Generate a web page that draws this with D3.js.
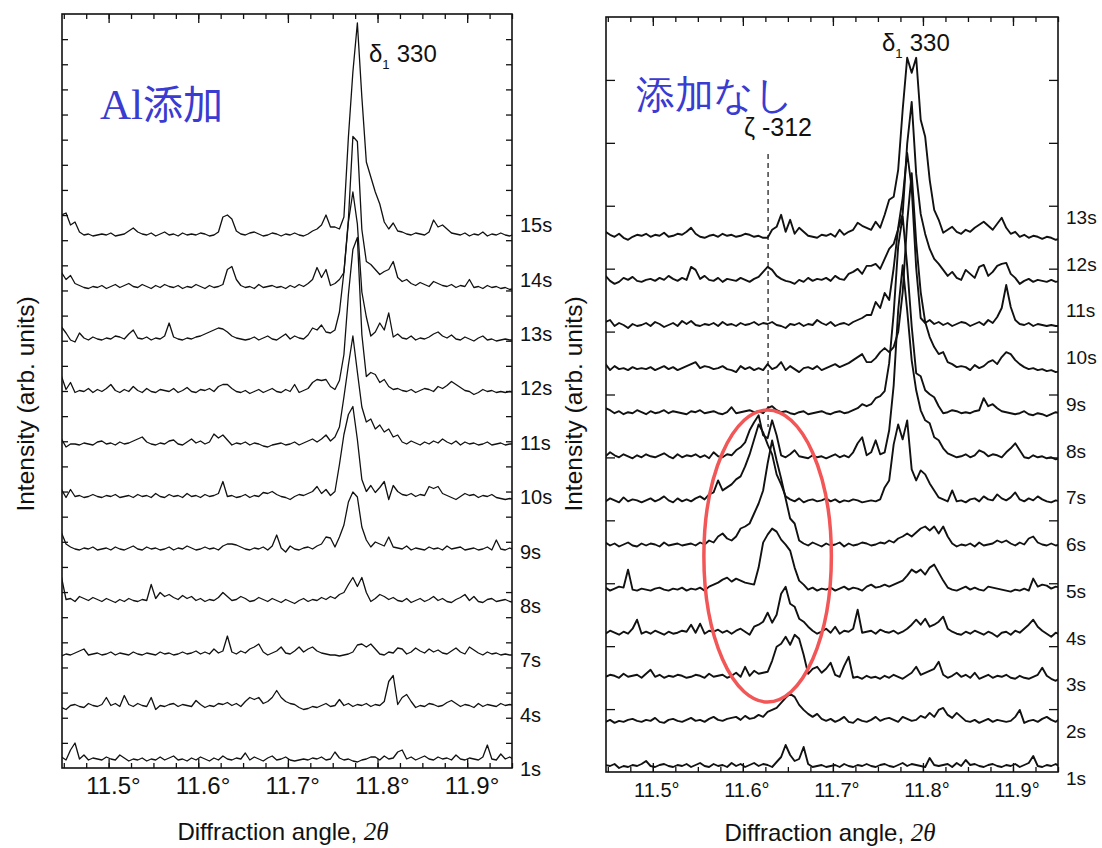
<!DOCTYPE html>
<html>
<head>
<meta charset="utf-8">
<script src="https://cdn.jsdelivr.net/npm/d3@7"></script>
<style>
  body { margin: 0; background: #fff; }
  text { font-family: "Liberation Sans", Arial, sans-serif; fill: #111; }
</style>
</head>
<body>
<svg></svg>
<script>
// sampling grid of the scans (degrees 2θ)
const angleStart = 11.4425, angleStep = 0.005, nPoints = 103;
const majorTicks = [11.5, 11.6, 11.7, 11.8, 11.9];

// ---- left panel: Al added ----
const alLabels = ["1s", "4s", "7s", "8s", "9s", "10s", "11s", "12s", "13s", "14s", "15s"];
const al1 = [4,5,2,12,19,3,7,2,4,3, 2,5,3,2,7,4,1,3,2,4, 1,3,2,5,2,4,6,2,3,1, 4,2,5,3,1,4,2,6,3,2,
  4,3,9,2,5,3,1,4,6,2, 3,5,2,1,2,3,2,4,3,5, 2,3,10,4,2,3,1,0,2,3, 5,5,2,6,3,4,10,12,3,5,
  2,4,6,3,2,5,3,4,2,7, 3,2,4,3,2,5,17,3,2,8, 3,5,2];
const al4 = [3,2,0,4,5,3,2,6,4,3, 5,12,4,6,3,14,5,3,6,4, 3,12,0,4,3,5,6,3,5,4, 3,9,5,2,4,3,6,5,7,4,
  6,3,8,12,10,12,6,8,12,19, 12,8,6,5,2,0,1,3,2,4, 6,3,4,10,4,6,3,5,4,6, 3,5,4,8,28,34,5,12,15,8,
  2,4,3,6,5,3,4,7,9,6, 3,5,4,2,6,3,5,4,3,6, 4,5,4];
const al7 = [2,1,3,2,4,6,8,2,3,4, 2,3,5,2,4,3,2,5,3,2, 4,3,2,5,3,4,2,3,5,3, 4,6,3,5,3,8,4,6,21,5,
  3,6,4,8,10,13,5,2,4,6, 10,4,3,6,10,5,8,10,6,4, 3,2,2,1,2,3,5,12,13,10, 13,8,3,2,5,4,9,8,3,5,
  9,6,4,8,5,7,4,3,6,9, 5,3,10,7,4,2,5,3,4,2, 3,2,2];
const al8 = [20,27,5,6,3,8,6,4,7,5, 3,6,4,2,5,3,6,4,3,5, 4,20,6,12,8,10,7,5,9,6, 8,4,6,3,5,4,7,12,8,4,
  5,8,6,3,4,7,5,3,6,4, 2,5,3,1,4,6,3,5,4,7, 5,8,6,10,12,20,27,18,27,12, 3,6,10,8,5,7,4,3,6,2,
  4,6,3,5,8,4,6,3,2,5, 7,10,4,8,3,2,5,6,3,4, 5,3,2];
const al9 = [5,19,8,5,3,2,4,3,5,2, 3,4,2,5,3,2,4,6,3,2, 5,3,4,2,3,5,2,4,3,6, 4,2,3,5,3,4,2,6,8,8,
  7,5,3,2,4,3,5,2,6,17, 4,0,6,3,2,4,5,3,6,8, 15,14,5,15,27,50,60,55,25,12, 5,10,8,6,15,5,4,3,6,2,
  4,3,2,5,3,4,2,6,3,4, 5,2,3,4,2,3,5,2,12,3, 2,4,2];
const al10 = [4,10,2,10,3,4,2,3,5,3, 2,4,3,5,2,3,4,2,5,3, 4,2,6,3,2,5,3,4,2,6, 3,4,2,5,3,4,6,18,3,4,
  2,3,5,2,4,3,7,6,8,5, 3,2,0,3,5,4,6,8,13,6, 10,4,8,35,65,85,93,60,20,8, 14,7,12,18,0,14,8,5,4,6,
  3,5,4,13,11,13,6,4,2,0, 3,6,4,5,2,4,3,5,2,1, 0,1,0];
const al11 = [6,8,0,3,3,2,4,3,2,5, 6,3,4,2,5,3,4,6,8,10, 5,3,2,4,3,6,7,3,2,5, 8,4,6,3,5,13,9,12,7,2,
  4,3,5,2,4,3,1,0,2,3, 4,2,3,5,2,4,6,8,5,8, 12,6,10,20,50,82,111,75,40,25, 28,18,22,15,18,10,12,5,3,6,
  4,2,5,3,6,4,8,5,3,6, 2,5,3,4,2,3,5,2,3,4, 2,3,3];
const al12 = [10,18,5,12,2,4,3,6,2,5, 3,6,10,4,2,5,3,8,4,2, 6,3,2,5,4,3,6,2,4,7, 3,2,5,4,6,3,8,10,10,6,
  3,2,4,1,3,5,2,4,6,3, 2,5,3,10,2,4,6,12,15,14, 15,8,5,14,40,100,145,157,60,18, 22,20,12,15,8,5,6,4,3,5,
  2,4,6,5,3,8,6,9,13,10, 7,4,3,0,2,5,3,4,2,3, 2,3,2];
const al13 = [12,15,9,2,0,9,4,2,5,3, 2,4,3,6,5,3,8,12,4,3, 5,2,4,3,6,19,5,3,2,4, 3,5,6,8,10,12,14,13,10,6,
  4,3,2,3,5,2,4,6,3,2, 5,8,3,6,4,3,7,14,12,17, 10,9,12,30,70,120,150,118,50,25, 6,10,19,12,29,5,8,4,3,6,
  2,4,3,5,8,10,6,4,7,3, 2,5,3,1,4,6,2,3,1,2, 3,2,2];
const al14 = [14,17,10,14,6,4,2,1,3,2, 4,1,3,5,2,4,6,3,2,5, 3,1,4,2,5,3,2,4,1,3, 2,5,3,1,4,2,3,5,20,23,
  10,4,2,3,1,5,2,3,4,2, 3,1,4,2,5,3,6,10,22,12, 20,4,6,10,17,70,153,148,60,28, 25,20,15,18,20,28,12,8,10,6,
  4,7,5,3,8,6,4,3,5,2, 4,3,10,2,3,1,4,2,3,1, 2,0,1];
const al15 = [24,22,24,12,15,5,2,3,1,2, 3,2,4,1,2,3,6,9,5,3, 2,4,1,3,5,2,3,1,4,2, 3,2,4,3,1,2,5,20,22,18,
  6,3,2,4,5,3,1,2,4,3, 1,3,2,4,2,1,3,6,8,12, 22,10,10,8,20,100,165,214,140,75, 60,45,33,15,8,14,6,5,3,2,
  4,3,2,5,17,10,12,8,4,3, 2,4,1,3,2,5,1,3,2,4, 2,1,3];
const alTraces = [al1, al4, al7, al8, al9, al10, al11, al12, al13, al14, al15];

// ---- right panel: no addition ----
const noLabels = ["1s", "2s", "3s", "4s", "5s", "6s", "7s", "8s", "9s", "10s", "11s", "12s", "13s"];
const no1 = [2,4,3,5,1,3,2,4,3,5, 8,3,2,4,5,3,2,4,3,5, 2,4,6,3,2,5,3,4,2,6, 3,5,2,4,6,3,5,4,2,7,
  12,24,14,8,10,22,5,2,3,4, 2,3,4,2,5,3,2,4,3,5, 3,2,4,5,3,2,4,6,3,5, 4,3,2,11,4,3,4,5,2,6,
  3,9,4,5,3,2,4,5,3,2, 4,3,5,2,4,6,13,3,2,4, 3,5,2];
const no2 = [0,3,5,2,4,3,5,6,4,3, 5,4,7,3,2,5,6,4,3,5, 7,4,5,3,6,8,5,4,6,7, 8,5,9,6,7,10,8,13,15,17,
  22,27,31,28,20,15,11,8,11,6, 4,6,3,5,8,3,2,6,4,3, 5,8,4,6,7,5,3,8,6,4, 5,9,7,12,8,15,17,10,7,12,
  8,4,3,5,2,4,6,3,5,4, 3,4,8,15,2,4,5,3,6,8, 5,3,7];
const no3 = [8,4,6,5,3,7,4,5,6,3, 7,11,4,6,3,5,4,6,5,3, 4,6,5,3,7,4,5,6,3,5, 8,4,14,5,10,7,8,9,20,34,
  37,44,36,46,42,26,7,12,14,8, 12,18,6,4,15,24,3,4,2,5, 3,4,2,5,3,6,4,2,5,8, 14,6,8,10,12,19,6,3,5,8,
  4,6,3,8,2,4,6,3,5,4, 6,3,2,5,3,2,4,6,13,5, 2,0,3];
const no4 = [5,3,6,4,2,5,3,8,17,3, 5,3,6,4,2,5,3,4,6,5, 12,4,13,3,6,5,7,4,6,3, 6,8,5,2,10,12,15,24,14,22,
  43,50,33,30,18,15,10,6,3,5, 8,4,10,3,6,5,8,27,4,5, 6,3,7,5,4,6,3,5,8,12, 17,12,18,10,12,15,20,8,5,3,
  2,5,3,6,4,2,5,3,0,4, 5,2,6,4,8,12,17,10,6,3, 0,4,2];
const no5 = [3,5,2,4,6,5,23,3,2,4, 3,2,4,5,3,2,4,3,5,2, 4,3,5,2,6,8,10,13,15,11, 14,12,10,9,8,25,50,58,64,61,
  53,48,42,25,12,8,3,5,2,4, 3,5,2,4,6,3,5,4,2,6, 8,5,6,8,6,8,10,12,17,23, 20,23,18,25,28,20,12,5,3,2,
  4,6,3,5,3,2,6,5,4,3, 2,1,3,2,4,2,14,6,8,7, 4,6,5];
const no6 = [4,6,3,5,2,4,6,3,2,5, 3,5,4,2,6,3,4,5,3,4, 5,3,6,4,8,6,12,15,10,8, 12,20,22,25,35,45,58,85,108,88,
  70,50,30,25,8,5,3,6,4,2, 5,3,4,6,2,5,3,4,6,5, 3,4,6,5,8,6,10,12,15,12, 16,20,22,18,22,15,22,12,5,2,
  4,3,5,2,6,3,4,5,8,6, 8,5,3,6,4,10,12,6,4,3, 5,3,4];
const no7 = [5,3,6,4,2,7,3,5,4,2, 4,6,3,5,8,4,2,6,3,5, 3,6,8,5,10,12,24,14,17,20, 25,28,38,50,65,80,72,60,50,30,
  20,8,5,3,6,2,4,5,3,4, 6,3,5,2,4,3,5,4,2,3, 4,3,5,17,24,60,80,65,84,35, 24,34,30,21,14,7,5,3,14,3,
  4,2,5,6,3,8,5,4,10,6, 4,7,12,5,3,6,4,8,5,3, 2,4,3];
const no8 = [7,4,8,5,3,6,4,2,5,3, 6,4,3,5,7,4,2,6,3,5, 4,6,3,5,2,8,4,3,6,5, 10,13,18,30,38,45,25,22,40,25,
  5,3,6,10,4,3,2,5,3,4, 2,4,6,3,5,3,8,17,23,5, 8,20,6,8,30,75,150,195,150,100, 70,50,40,37,23,20,12,7,5,3,
  4,6,3,5,10,8,4,6,5,3, 8,12,17,10,3,2,5,3,4,2, 3,1,2];
const no9 = [4,8,6,3,5,2,4,3,6,4, 2,5,3,4,6,3,5,4,3,2, 5,4,6,3,4,5,3,2,4,9, 3,4,5,6,4,5,3,8,10,6,
  4,5,3,2,4,5,2,3,4,5, 3,2,4,5,3,4,6,8,12,10, 12,18,20,25,53,103,170,200,150,90, 43,40,26,22,19,10,3,4,6,5,
  3,4,3,5,6,18,10,12,8,5, 4,3,2,3,5,2,1,3,2,0, 2,4,3];
const no10 = [5,8,2,6,3,4,2,5,3,4, 3,5,2,4,6,3,5,2,4,6, 8,10,4,6,5,3,4,6,3,2, 0,6,3,5,2,4,2,8,3,5,
  10,2,6,3,0,4,5,3,6,2, 4,6,8,5,7,9,12,15,18,10, 10,14,20,24,20,25,40,80,150,199, 130,80,50,35,25,18,20,10,8,5,
  6,5,2,7,4,6,10,12,8,15, 20,18,12,8,5,3,4,2,3,1, 2,0,1];
const no11 = [3,6,8,2,5,3,0,4,2,3, 5,2,6,4,1,3,5,2,7,4, 7,3,2,4,3,5,2,6,3,4, 2,5,3,4,6,3,5,4,6,3,
  2,0,4,3,5,2,4,3,8,5, 3,6,2,4,5,3,6,8,10,13, 13,26,20,35,28,60,100,130,175,140, 60,10,5,8,4,6,3,5,2,4,
  6,5,2,4,6,3,8,5,11,20, 43,21,8,4,3,5,2,4,3,2, 3,2,2];
const no12 = [5,8,3,0,2,6,4,7,3,2, 4,5,3,6,4,8,5,3,6,4, 17,14,5,8,4,3,6,2,5,4, 3,6,4,2,5,7,12,17,14,8,
  5,3,2,0,4,2,6,3,5,4, 6,3,8,5,4,10,12,15,10,18, 18,20,15,25,35,40,55,70,140,182, 110,70,50,35,25,20,14,8,12,6,
  4,14,10,6,17,19,8,12,18,20, 21,10,6,0,3,5,2,4,3,2, 4,2,3];
const no13 = [10,8,5,3,6,2,0,3,5,4, 6,3,5,4,7,3,4,6,5,8, 12,6,3,2,4,5,3,6,4,5, 3,4,6,5,3,4,2,2,10,13,
  25,8,20,6,12,8,4,3,2,5, 4,6,3,10,5,8,10,17,14,12, 10,18,12,25,40,43,70,130,182,167, 182,120,103,60,30,20,7,10,13,8,
  6,10,8,12,15,18,14,10,16,22, 12,6,8,3,5,2,4,3,1,3, 2,0,1];
const noTraces = [no1, no2, no3, no4, no5, no6, no7, no8, no9, no10, no11, no12, no13];

// annotation positions in data units
const zetaAngle = 11.628;
const ellipseAngle = 11.6275, ellipseHalfWidth = 0.0708;
const ellipseLevel = 216, ellipseHalfHeight = 146;

const W = 1102, H = 848;
const svg = d3.select("svg").attr("width", W).attr("height", H);
const angles = d3.range(nPoints).map(i => angleStart + i * angleStep);
const minorTicks = d3.range(0, 21).map(i => 11.45 + i * 0.025);

const panels = [
  {id: "al", x0: 62, x1: 512, y0: 14, y1: 768, labels: alLabels, traces: alTraces,
   base: 6, gap: 52.5, yTicks: 30, yTickLen: 6, lineW: 1.3, labelSize: 20,
   labelFirst: 769, labelLast: 225, tickFont: 24, tickY: 794, titleX: 283, titleY: 840,
   yTitleX: 34, yTitleY: 404},
  {id: "no", x0: 606, x1: 1058, y0: 17, y1: 772, labels: noLabels, traces: noTraces,
   base: 3, gap: 44.1, yTicks: 12, yTickLen: 9, lineW: 1.9, labelSize: 19,
   labelFirst: 778, labelLast: 217, tickFont: 20, tickY: 797, titleX: 830, titleY: 841,
   yTitleX: 582, yTitleY: 404}
];

panels.forEach(p => {
  const x = d3.scaleLinear().domain([11.448, 11.950]).range([p.x0, p.x1]);
  const y = d3.scaleLinear().domain([0, p.y1 - p.y0]).range([p.y1, p.y0]);
  p.x = x; p.y = y;
  const g = svg.append("g");

  g.append("clipPath").attr("id", "clip-" + p.id)
    .append("rect").attr("x", p.x0).attr("y", p.y0)
    .attr("width", p.x1 - p.x0).attr("height", p.y1 - p.y0);

  const line = d3.line()
    .x((d, i) => x(angles[i]))
    .y(d => d);

  g.append("g").attr("clip-path", `url(#clip-${p.id})`)
    .selectAll("path").data(p.traces).join("path")
    .attr("d", (t, j) => line(t.map(v => y(p.base + p.gap * j + v))))
    .attr("fill", "none").attr("stroke", "#111")
    .attr("stroke-width", p.lineW).attr("stroke-linejoin", "round");

  // ticks: top and bottom, pointing inward
  const axes = [
    [d3.axisBottom, p.y0, minorTicks, 5],
    [d3.axisBottom, p.y0, majorTicks, 9],
    [d3.axisTop, p.y1, minorTicks, 5],
    [d3.axisTop, p.y1, majorTicks, 9]
  ];
  axes.forEach(([ax, ty, vals, len]) => {
    g.append("g").attr("transform", `translate(0,${ty})`)
      .call(ax(x).tickValues(vals).tickSize(len).tickFormat(""))
      .call(s => s.select(".domain").remove())
      .selectAll("line").attr("stroke", "#111").attr("stroke-width", 1.3);
  });

  const yt = d3.scaleLinear().domain([0, p.yTicks]).range([p.y1, p.y0]);
  const yVals = d3.range(1, p.yTicks);
  g.append("g").attr("transform", `translate(${p.x0},0)`)
    .call(d3.axisRight(yt).tickValues(yVals).tickSize(p.yTickLen).tickFormat(""))
    .call(s => s.select(".domain").remove())
    .selectAll("line").attr("stroke", "#111").attr("stroke-width", 1.3);
  g.append("g").attr("transform", `translate(${p.x1},0)`)
    .call(d3.axisLeft(yt).tickValues(yVals).tickSize(p.yTickLen).tickFormat(""))
    .call(s => s.select(".domain").remove())
    .selectAll("line").attr("stroke", "#111").attr("stroke-width", 1.3);

  g.append("rect").attr("x", p.x0).attr("y", p.y0)
    .attr("width", p.x1 - p.x0).attr("height", p.y1 - p.y0)
    .attr("fill", "none").attr("stroke", "#111").attr("stroke-width", 1.6);

  // tick labels
  g.selectAll(".tl").data(majorTicks).join("text")
    .attr("x", d => x(d) + p.tickFont * 0.2).attr("y", p.tickY)
    .attr("text-anchor", "middle").attr("font-size", p.tickFont)
    .text(d => d.toFixed(1) + "°");

  // trace labels
  const ly = d3.scaleLinear().domain([0, p.labels.length - 1]).range([p.labelFirst, p.labelLast]);
  g.selectAll(".lab").data(p.labels).join("text")
    .attr("x", p.x1 + 8).attr("y", (d, i) => ly(i) + p.labelSize * 0.36)
    .attr("font-size", p.labelSize).text(d => d);

  // axis titles
  const xt = g.append("text").attr("x", p.titleX).attr("y", p.titleY)
    .attr("text-anchor", "middle").attr("font-size", 24);
  xt.append("tspan").text("Diffraction angle, ");
  xt.append("tspan").attr("font-style", "italic").attr("font-family", "Liberation Serif")
    .attr("font-size", 25).text("2θ");

  g.append("text")
    .attr("transform", `translate(${p.yTitleX},${p.yTitleY}) rotate(-90)`)
    .attr("text-anchor", "middle").attr("font-size", 24.5)
    .text("Intensity (arb. units)");
});

// peak annotations
function delta(xPos, yPos, size) {
  const t = svg.append("text").attr("x", xPos).attr("y", yPos).attr("font-size", size);
  t.append("tspan").text("δ");
  t.append("tspan").attr("dy", 7).attr("font-size", size * 0.55).text("1");
  t.append("tspan").attr("dy", -7).attr("dx", 7).text("330");
}
delta(369, 62, 24);
delta(882, 51, 24);

const pR = panels[1];
svg.append("text").attr("x", 744).attr("y", 136).attr("font-size", 25).text("ζ -312");
svg.append("line")
  .attr("x1", pR.x(zetaAngle)).attr("x2", pR.x(zetaAngle))
  .attr("y1", pR.y(618)).attr("y2", pR.y(345))
  .attr("stroke", "#111").attr("stroke-width", 1.2).attr("stroke-dasharray", "5,4");

svg.append("ellipse")
  .attr("cx", pR.x(ellipseAngle)).attr("cy", pR.y(ellipseLevel))
  .attr("rx", pR.x(ellipseAngle + ellipseHalfWidth) - pR.x(ellipseAngle))
  .attr("ry", ellipseHalfHeight)
  .attr("fill", "none").attr("stroke", "#f25656").attr("stroke-width", 3.5);

// Japanese labels
const blue = "#3a3bd0";
const t1 = svg.append("text").attr("x", 100).attr("y", 119).style("fill", blue);
t1.append("tspan").attr("font-family", "Liberation Serif").attr("font-size", 43).style("fill", blue).text("Al");
t1.append("tspan").attr("font-family", "Noto Sans CJK JP").attr("font-size", 40).style("fill", blue).text("添加");
svg.append("text").attr("x", 636).attr("y", 108)
  .attr("font-family", "Noto Sans CJK JP").attr("font-size", 39).style("fill", blue)
  .text("添加なし");
</script>
</body>
</html>
